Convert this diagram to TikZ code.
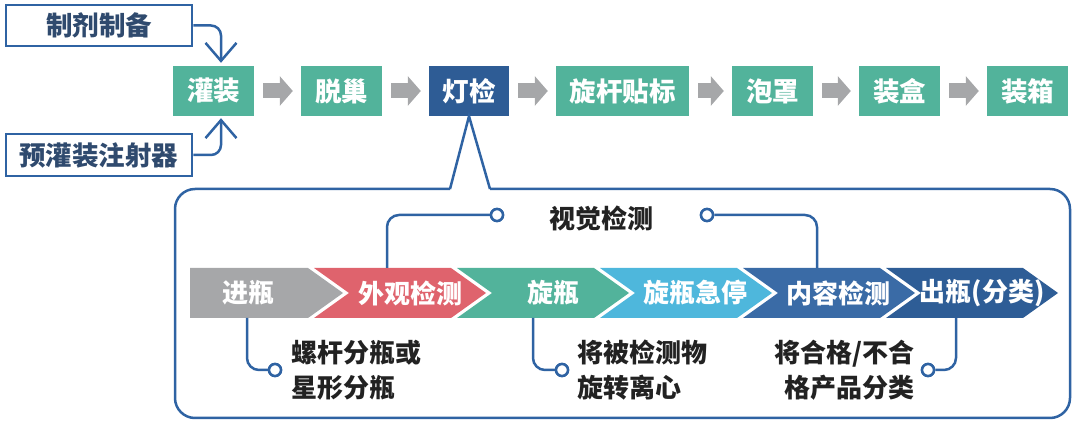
\documentclass[tikz,border=0pt]{standalone}
\usepackage{fontspec}
\setmainfont{Noto Sans CJK SC}
\usetikzlibrary{arrows.meta}
\definecolor{tgreen}{HTML}{52B39B}
\definecolor{tline}{HTML}{2F63A3}
\definecolor{tdark}{HTML}{2E5C95}
\definecolor{tgray}{HTML}{A6A7A9}
\definecolor{tred}{HTML}{DF636D}
\definecolor{tlight}{HTML}{4EB7DC}
\definecolor{tmid}{HTML}{3A6BA6}
\definecolor{tdeep}{HTML}{2E5D96}
\definecolor{ttext}{HTML}{222222}
\definecolor{tbtext}{HTML}{2F4A6E}
\tikzset{
  stepbox/.style={fill=tgreen, text=white, minimum height=50pt, inner sep=0pt,
    font=\fontsize{26.5}{30}\selectfont\bfseries},
  srcbox/.style={draw=tline, line width=2.5pt, fill=white, text=tbtext, minimum width=186pt,
    minimum height=41pt, inner sep=0pt, font=\fontsize{26.5}{30}\selectfont\bfseries},
  grayarr/.style={draw=tgray, line width=15pt, -{Triangle[length=13pt,width=29pt]}},
  bline/.style={draw=tline, line width=2.5pt},
  barb/.style={bline, rounded corners=10pt, -{Straight Barb[length=18pt,width=31pt,line width=2.5pt]}},
  chevtext/.style={text=white, inner sep=0pt, font=\fontsize{26}{30}\selectfont\bfseries},
  dotc/.style={circle, draw=tline, line width=2.5pt, fill=white, minimum size=12pt, inner sep=0pt},
  lbl/.style={text=ttext, inner sep=0pt, font=\fontsize{26}{35}\selectfont\bfseries},
}
\begin{document}
\begin{tikzpicture}[x=1pt,y=-1pt]
\useasboundingbox (0,0) rectangle (1080,430);
% top row
\node[stepbox, minimum width=81pt] (guan) at (213.5,91) {灌装};
\node[stepbox, minimum width=81pt] (tuo) at (341.5,91) {脱巢};
\node[stepbox, minimum width=80pt, fill=tdark] (deng) at (469,91) {灯检};
\node[stepbox, minimum width=133pt] (xuan) at (622.5,91) {旋杆贴标};
\node[stepbox, minimum width=81pt] (pao) at (772.5,91) {泡罩};
\node[stepbox, minimum width=81pt] (he) at (899.5,91) {装盒};
\node[stepbox, minimum width=81pt] (xiang) at (1027.5,91) {装箱};
\foreach \a/\b in {guan/tuo, tuo/deng, deng/xuan, xuan/pao, pao/he, he/xiang}
  \draw[grayarr] ([xshift=9pt]\a.east) -- ([xshift=-8pt]\b.west);
% source boxes
\node[srcbox] (zhiji) at (99,25.5) {制剂制备};
\node[srcbox, minimum height=42pt] (yuguan) at (99,155) {预灌装注射器};
\draw[barb] (zhiji.east) -| ([xshift=7.5pt,yshift=3pt]guan.north);
\draw[barb] (yuguan.east) -| ([xshift=7.5pt,yshift=-2pt]guan.south);
% big callout box
\draw[bline, rounded corners=20pt] (450,189) -| (175,418) -| (1070,189) -- (490,189);
\draw[bline] (450,189) -- (deng.south) -- (490,189);
% chevrons
\fill[tgray] (190,268) -- (308,268) -- (343,293) -- (308,318) -- (190,318) -- cycle;
\foreach \c/\col [count=\i] in {451/tred, 594/tgreen, 737/tlight, 880/tmid, 1023/tdeep}{
  \pgfmathsetmacro{\L}{\c-143+6}
  \fill[\col] (\L,268) -- (\c,268) -- (\c+35,293) -- (\c,318) -- (\L,318) -- (\L+35,293) -- cycle;
}
\node[chevtext] (s1) at (248,293) {进瓶};
\node[chevtext] (s2) at (410,293) {外观检测};
\node[chevtext] (s3) at (553,293) {旋瓶};
\node[chevtext] (s4) at (695,293) {旋瓶急停};
\node[chevtext] (s5) at (838,293) {内容检测};
\node[chevtext] (s6) at (982,293) {出瓶(分类)};
% connection points on chevrons
\coordinate (t1) at (387,268);
\coordinate (t2) at (817,268);
\coordinate (b1) at (247,318);
\coordinate (b2) at (533,318);
\coordinate (b3) at (956,318);
% circles
\node[dotc] (vc1) at (497,215) {};
\node[dotc] (vc2) at (707,215) {};
\node[dotc] (bc1) at (275,370) {};
\node[dotc] (bc2) at (562,370) {};
\node[dotc] (bc3) at (928,370) {};
\draw[bline, rounded corners=12pt] (t1) |- (vc1.west);
\draw[bline, rounded corners=12pt] (t2) |- (vc2.east);
\draw[bline, rounded corners=12pt] (b1) |- (bc1.west);
\draw[bline, rounded corners=12pt] (b2) |- (bc2.west);
\draw[bline, rounded corners=12pt] (b3) |- (bc3.east);
\node[dotc] at (vc1) {};
\node[dotc] at (vc2) {};
\node[dotc] at (bc1) {};
\node[dotc] at (bc2) {};
\node[dotc] at (bc3) {};
% labels
\node[lbl] (vis) at (601,218) {视觉检测};
\node[lbl, anchor=west, align=left] (l1) at (291,370) {螺杆分瓶或\\星形分瓶};
\node[lbl, anchor=west, align=left] (l2) at (577,370) {将被检测物\\旋转离心};
\node[lbl, anchor=east, align=right] (l3) at (915,370) {将合格/不合\\格产品分类};
\end{tikzpicture}
\end{document}
